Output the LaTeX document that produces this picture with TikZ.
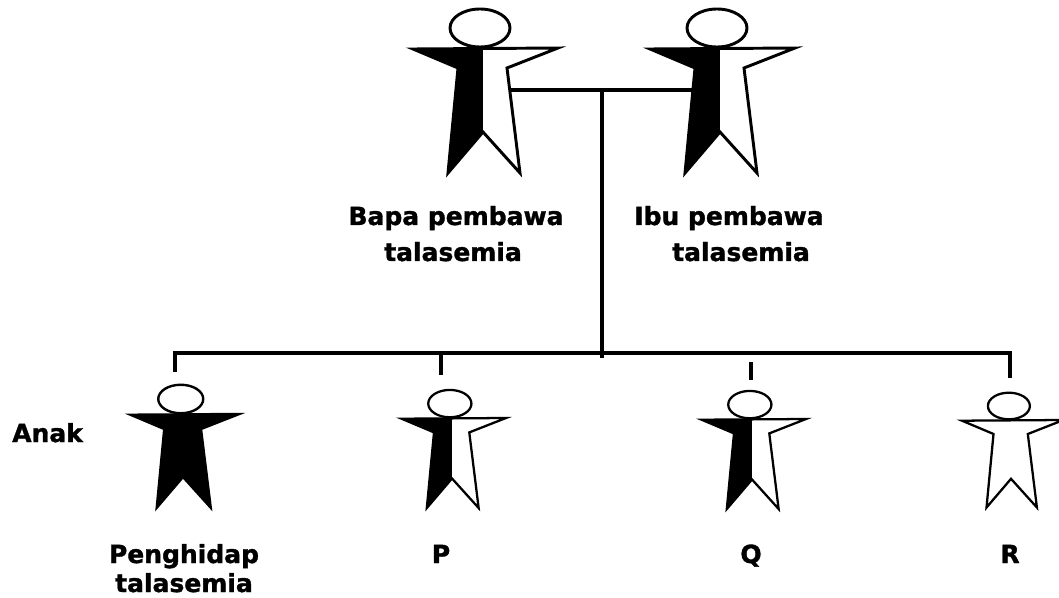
\documentclass[tikz,border=0pt]{standalone}
\usepackage{fontspec}
\setmainfont[BoldFeatures={FakeBold=1.3}]{DejaVu Sans}
\begin{document}
\begin{tikzpicture}[x=0.75pt,y=-0.75pt,
  link/.style={line width=3pt},
  lbl/.style={font=\fontsize{18.75}{22}\selectfont\bfseries, anchor=base, inner sep=0pt},
  pics/person/.style 2 args={code={
    % left half and right half of the body
    \fill[#1] (0,0) -- (-70,1) -- (-25,20) -- (-35,125) -- (0,84) -- cycle;
    \fill[#2] (0,0) -- (75,0) -- (24,20) -- (37,125) -- (0,84) -- cycle;
    % body outline
    \draw[miter limit=6] (-70,1) -- (75,0) -- (24,20) -- (37,125) -- (0,84)
      -- (-35,125) -- (-25,20) -- cycle;
    % head
    \draw[fill=white] (-3,-20) ellipse [x radius=30, y radius=19];
    \coordinate (-hipL) at (-27,42);
    \coordinate (-hipR) at (27,42);
  }}
]
\useasboundingbox (0,0) rectangle (1059,598);

% parents
\pic[line width=2.2pt] (bapa) at (483,48) {person={black}{white}};
\pic[line width=2.2pt] (ibu)  at (720,48) {person={black}{white}};

% children
\pic[line width=1.8pt, scale=0.75] (anak1) at (183,414) {person={black}{black}};
\pic[line width=1.7pt, scale=0.72] (anakP) at (452,418) {person={black}{white}};
\pic[line width=1.7pt, scale=0.72] (anakQ) at (752,419) {person={black}{white}};
\pic[line width=1.7pt, scale=0.70] (anakR) at (1011,420) {person={white}{white}};

% family tree lines
\coordinate (split) at (602,90);
\coordinate (hub) at (602,358);
\coordinate (bar0) at (175,353);
\coordinate (barR) at (1010,353);
\coordinate (tick0) at (175,372);
\coordinate (tickP) at (441,375);
\coordinate (tickQa) at (751,362);
\coordinate (tickQ) at (751,380);
\coordinate (tickR) at (1010,378);

\draw[line width=2.4pt] (bapa-hipR) -- (bapa-hipR -| ibu-hipL);
\draw[link, line width=3.6pt] (split) -- (hub);
\draw[link] (tick0) -- (bar0) -- (barR) -- (tickR);
\draw[link] (tickP |- bar0) -- (tickP);
\draw[link] (tickQa) -- (tickQ);

% labels
\node[lbl] (bapa1) at (456,225) {Bapa pembawa};
\node[lbl] (bapa2) at (453,261) {talasemia};
\node[lbl] (ibu1) at (729,225) {Ibu pembawa};
\node[lbl] (ibu2) at (741,261) {talasemia};
\node[lbl, anchor=base west] (anak) at (12,442) {Anak};
\node[lbl] (peng1) at (184,563) {Penghidap};
\node[lbl] (peng2) at (184,592) {talasemia};
\node[lbl] (labP) at (441,563) {P};
\node[lbl] (labQ) at (751,563) {Q};
\node[lbl] (labR) at (1010,563) {R};
\end{tikzpicture}
\end{document}
